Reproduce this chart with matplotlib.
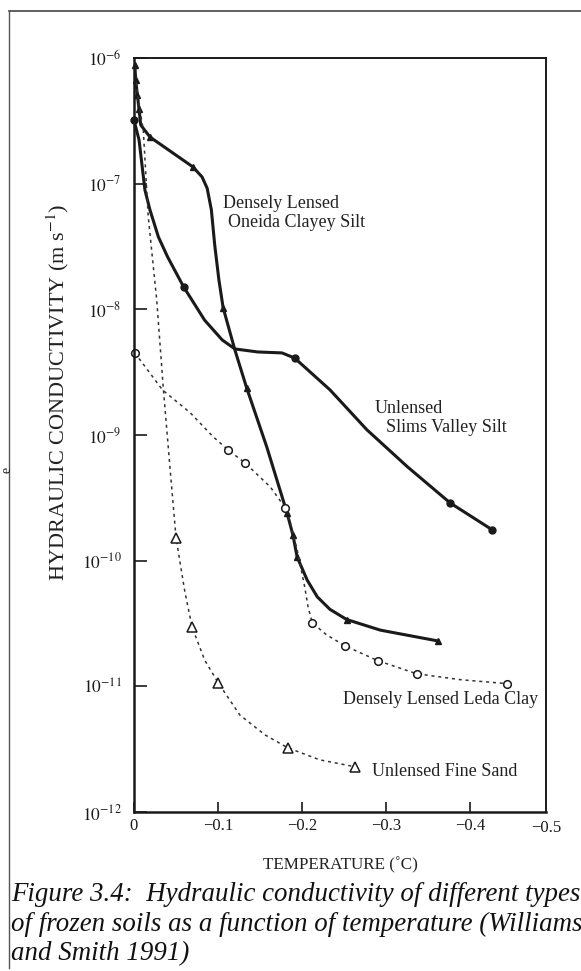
import matplotlib
matplotlib.use("Agg")
import matplotlib.pyplot as plt
from matplotlib.lines import Line2D

plt.rcParams['font.family'] = ['Liberation Serif', 'DejaVu Serif']
plt.rcParams['mathtext.fontset'] = 'stix'

# Densely lensed Oneida clayey silt (solid line, filled triangles)
oneida_t = [-0.001, -0.002, -0.004, -0.006, -0.008, -0.019, -0.070, -0.081, -0.087, -0.092,
            -0.096, -0.101, -0.106, -0.120, -0.134, -0.158, -0.182, -0.189, -0.194, -0.206,
            -0.218, -0.233, -0.253, -0.293, -0.361]
oneida_k = [8.8e-7, 6.7e-7, 5.1e-7, 3.9e-7, 2.93e-7, 2.35e-7, 1.36e-7, 1.13e-7, 9.2e-8, 6.2e-8,
            3.25e-8, 1.71e-8, 1.03e-8, 4.75e-9, 2.37e-9, 8.0e-10, 2.4e-10, 1.6e-10, 1.07e-10, 7.0e-11,
            5.15e-11, 4.1e-11, 3.4e-11, 2.8e-11, 2.3e-11]
oneida_pts = [0, 1, 2, 3, 5, 6, 12, 14, 16, 17, 18, 22, 24]

# Unlensed Slims Valley silt (solid line, filled circles)
slims_t = [0.0, -0.006, -0.013, -0.019, -0.029, -0.040, -0.059, -0.084, -0.105, -0.120,
           -0.147, -0.176, -0.191, -0.233, -0.277, -0.325, -0.376, -0.426]
slims_k = [3.2e-7, 2.23e-7, 8.9e-8, 6.18e-8, 3.77e-8, 2.61e-8, 1.51e-8, 8.2e-9, 5.7e-9, 4.84e-9,
           4.58e-9, 4.5e-9, 4.1e-9, 2.29e-9, 1.1e-9, 5.6e-10, 2.88e-10, 1.76e-10]
slims_pts = [0, 6, 12, 16, 17]

# Densely lensed Leda clay (dashed line, open circles)
leda_t = [-0.001, -0.034, -0.067, -0.094, -0.112, -0.132, -0.162, -0.180, -0.185, -0.194,
          -0.203, -0.207, -0.212, -0.229, -0.251, -0.290, -0.336, -0.388, -0.444]
leda_k = [4.5e-9, 2.28e-9, 1.5e-9, 9.7e-10, 7.6e-10, 6.0e-10, 3.87e-10, 2.63e-10, 2.11e-10, 1.22e-10,
          6.2e-11, 4.3e-11, 3.2e-11, 2.57e-11, 2.1e-11, 1.6e-11, 1.26e-11, 1.13e-11, 1.05e-11]
leda_pts = [0, 4, 5, 7, 12, 14, 15, 16, 18]

# Unlensed fine sand (dashed line, open triangles)
sand_t = [0.0, -0.005, -0.011, -0.017, -0.027, -0.035, -0.043, -0.050, -0.060, -0.069,
          -0.084, -0.100, -0.126, -0.156, -0.183, -0.221, -0.263]
sand_k = [9.3e-7, 4.6e-7, 2.7e-7, 5.4e-8, 1.19e-8, 2.29e-9, 5.3e-10, 1.52e-10, 5.9e-11, 2.97e-11,
          1.62e-11, 1.07e-11, 5.9e-12, 4.1e-12, 3.24e-12, 2.6e-12, 2.29e-12]
sand_pts = [7, 9, 11, 14, 16]

y_ticks = [1e-12, 1e-11, 1e-10, 1e-9, 1e-8, 1e-7, 1e-6]
y_labels = ['$10^{-12}$', '$10^{-11}$', '$10^{-10}$', '$10^{-9}$', '$10^{-8}$', '$10^{-7}$', '$10^{-6}$']
x_ticks = [0, -0.1, -0.2, -0.3, -0.4]
x_labels = ['0', '\u22120.1', '\u22120.2', '\u22120.3', '\u22120.4']

W, H = 581, 971
fig = plt.figure(figsize=(W / 100, H / 100), dpi=100)
ax = fig.add_axes([134 / W, 1 - 812 / H, 412 / W, 754 / H])

ink = '#1a1a1a'
ax.plot(oneida_t, oneida_k, color=ink, lw=2.2, solid_capstyle='round')
ax.plot([oneida_t[i] for i in oneida_pts], [oneida_k[i] for i in oneida_pts], ls='none',
        marker='^', ms=4.5, color=ink, clip_on=False)
ax.plot(slims_t, slims_k, color=ink, lw=2.2, solid_capstyle='round')
ax.plot([slims_t[i] for i in slims_pts], [slims_k[i] for i in slims_pts], ls='none',
        marker='o', ms=5, color=ink, clip_on=False)
ax.plot(leda_t, leda_k, color='#333333', lw=1.1, ls=(0, (2, 2.5)))
ax.plot([leda_t[i] for i in leda_pts], [leda_k[i] for i in leda_pts], ls='none',
        marker='o', ms=5.5, mfc='white', mec=ink, mew=1.1, clip_on=False)
ax.plot(sand_t, sand_k, color='#333333', lw=1.1, ls=(0, (2, 2.5)))
ax.plot([sand_t[i] for i in sand_pts], [sand_k[i] for i in sand_pts], ls='none',
        marker='^', ms=7, mfc='white', mec=ink, mew=1.1, clip_on=False)

ax.set_yscale('log')
ax.set_ylim(1e-12, 1e-6)
ax.set_xlim(0, -0.49)
ax.set_yticks(y_ticks)
ax.set_yticklabels(y_labels)
ax.minorticks_off()
ax.set_xticks(x_ticks)
ax.set_xticklabels(x_labels)
ax.tick_params(axis='y', direction='in', length=9, width=1.2, pad=9, labelsize=12.5, colors=ink)
ax.tick_params(axis='x', direction='in', length=7, width=1.2, pad=4, labelsize=12, colors=ink)
ax.text(1.0, -0.0105, '\u22120.5', transform=ax.transAxes, ha='center', va='top',
        fontsize=12, color=ink)
for side in ['left', 'bottom']:
    ax.spines[side].set_linewidth(1.8)
for side in ['top', 'right']:
    ax.spines[side].set_linewidth(1.4)
for sp in ax.spines.values():
    sp.set_color(ink)

# curve labels
lab = dict(fontsize=13, color='#222222', ha='left', va='center')
ax.text(-0.106, 6.9e-8, 'Densely Lensed', **lab)
ax.text(-0.112, 4.95e-8, 'Oneida Clayey Silt', **lab)
ax.text(-0.2866, 1.64e-9, 'Unlensed', **lab)
ax.text(-0.2996, 1.14e-9, 'Slims Valley Silt', **lab)
ax.text(-0.2485, 7.8e-12, 'Densely Lensed Leda Clay', **lab)
ax.text(-0.283, 2.09e-12, 'Unlensed Fine Sand', **lab)

fig.text(58 / W, 1 - 392 / H, 'HYDRAULIC CONDUCTIVITY (m s$^{-1}$)', rotation=90,
         ha='center', va='center', fontsize=16, color='#222222')
fig.text(340 / W, 1 - 865 / H, 'TEMPERATURE (\u02daC)', ha='center', va='center',
         fontsize=12.3, color='#222222')

cap = dict(fontsize=19.4, style='italic', color='#111111', ha='left', va='center')
fig.text(11 / W, 1 - 894 / H, 'Figure 3.4:  Hydraulic conductivity of different types', **cap)
fig.text(11 / W, 1 - 924 / H, 'of frozen soils as a function of temperature (Williams', **cap)
fig.text(11 / W, 1 - 954 / H, 'and Smith 1991)', **cap)
fig.text(7 / W, 1 - 470 / H, 'e', rotation=90, ha='center', va='center', fontsize=10,
         color='#222222')

# page frame
fig.add_artist(Line2D([9 / W, 1.0], [1 - 11 / H, 1 - 11 / H], color='#444444', lw=1.2))
fig.add_artist(Line2D([9 / W, 9 / W], [1 - 11 / H, 1 - 968 / H], color='#555555', lw=1.0))

fig.savefig('out.png', dpi=100)
